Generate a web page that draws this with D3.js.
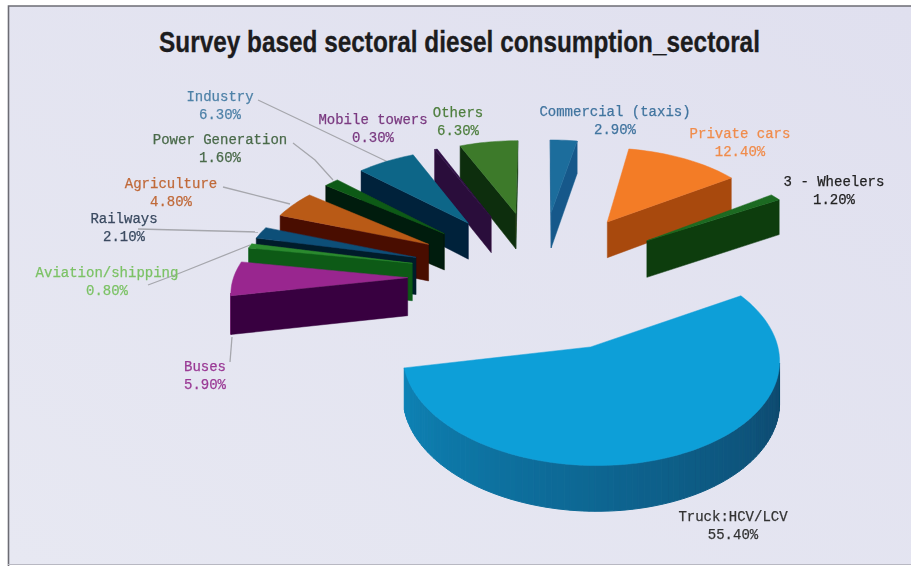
<!DOCTYPE html>
<html><head><meta charset="utf-8">
<style>html,body{margin:0;padding:0;background:#fff}svg{display:block}</style>
<script src="https://cdn.jsdelivr.net/npm/d3@7/dist/d3.min.js"></script></head>
<body><svg id="c" width="911" height="566"></svg>
<script>
const categories=["Commercial (taxis)","Private cars","3 - Wheelers","Truck:HCV/LCV","Buses","Aviation/shipping","Railways","Agriculture","Power Generation","Industry","Mobile towers","Others"];
const values=[2.9,12.4,1.2,55.4,5.9,0.8,2.1,4.8,1.6,6.3,0.3,6.3];
const topColors=["#1f6d9c","#f37b27","#1b6a20","#109fd8","#99268f","#2c8a2e","#0e4f78","#b95a18","#0f5a16","#0e6688","#2e0f44","#3c7a2c"];
const sideColors=["#14598a","#a84a10","#0c3c0e","#0a4468","#37053f","#0a5a16","#041c2c","#4a0d06","#021a08","#04203a","#2a0a3a","#0c2f0a"];
const labelColors=["#41749f","#f08c4c","#222222","#333333","#9a3a95","#7cc266","#3a4a60","#c06a3a","#4a6a4a","#4f82a8","#7a3a80","#4f7f3f"];
const labelCenters=[[615,112],[740,134],[834,182],[733,517],[205,367],[107,273],[124,219],[171,184],[220,140],[220,97],[373,120],[458,113]];
const leaders=[null,null,null,null,[[230,362],[232,337]],[[148,285],[180,273],[250,245]],[[138,229],[258,232]],[[223,187],[290,204]],[[293,143],[315,160],[333,180]],[[258,100],[317,128],[388,162]],null,null];
const title="Survey based sectoral diesel consumption_sectoral";

const vx=540,S=174,H=925,hz=-648,D=10.1,explode=0.76,depth=38;
const TAU=Math.PI*2;
const svg=d3.select("#c");
const defs=svg.append("defs");
const bg=defs.append("linearGradient").attr("id","bg").attr("x1",0).attr("y1",1).attr("x2",1).attr("y2",0);
bg.append("stop").attr("offset",0).attr("stop-color","#e7e8f2");
bg.append("stop").attr("offset",1).attr("stop-color","#e0e0ef");
const soft=(id,d)=>defs.append("filter").attr("id",id).attr("x","-5%").attr("y","-5%").attr("width","110%").attr("height","110%").append("feGaussianBlur").attr("stdDeviation",d);
soft("softPie",0.6);
soft("softText",0.35);
const line=d3.line();
svg.append("rect").attr("x",8).attr("y",6).attr("width",903).attr("height",558).attr("fill","url(#bg)");
svg.append("path").attr("d",line([[8.5,566],[8.5,6],[911,6]])).attr("fill","none").attr("stroke","#6c6c74").attr("stroke-width",1.6);
svg.append("path").attr("d",line([[8,564.5],[911,564.5]])).attr("fill","none").attr("stroke","#b8b8c2").attr("stroke-width",1);
svg.append("text").attr("transform","translate(459.5,52) scale(0.812,1)").attr("text-anchor","middle").attr("font-family","'Liberation Sans',sans-serif").attr("font-weight",700).attr("font-size",30).attr("fill","#1c1c1e").attr("stroke","#1c1c1e").attr("stroke-width",0.3).text(title);

const project=(X,Y,z)=>{const s=1/(1-Y/D);return [vx+S*X*s,hz+H*s+z*s];};
const pie=d3.pie().sort(null).startAngle(0).endAngle(TAU);
const arcs=pie(values);
const slices=arcs.map((a,i)=>{
  const mid=(a.startAngle+a.endAngle)/2;
  const ox=explode*Math.sin(mid),oy=-explode*Math.cos(mid);
  const n=Math.max(2,Math.ceil((a.endAngle-a.startAngle)/0.03));
  const rim=d3.range(n+1).map(k=>{const t=a.startAngle+(a.endAngle-a.startAngle)*k/n;return {t,X:ox+Math.sin(t),Y:oy-Math.cos(t)};});
  return {i,ox,oy,rim,mid};
});
const order=slices.slice().sort((a,b)=>a.oy-b.oy);
const leaderLayer=svg.append("g").attr("filter","url(#softText)");
const g=svg.append("g").attr("filter","url(#softPie)");
const signed=q=>{let A=0;q.forEach((p,k)=>{const r=q[(k+1)%q.length];A+=p[0]*r[1]-r[0]*p[1];});return A;};
order.forEach(sl=>{
  const i=sl.i,el=g.append("g");
  const A={X:sl.ox,Y:sl.oy},first=sl.rim[0],last=sl.rim[sl.rim.length-1];
  const wall=(p,q)=>[project(p.X,p.Y,0),project(q.X,q.Y,0),project(q.X,q.Y,depth),project(p.X,p.Y,depth)];
  d3.pairs(sl.rim).forEach(([p,q])=>{
    const w=wall(p,q);
    if(signed(w)<0){
      const tm=(p.t+q.t)/2;
      const k=Math.max(0,Math.min(1,(tm-Math.PI/2)/Math.PI))*0.75;
      const c=d3.interpolateRgb(sideColors[i],topColors[i])(k);
      el.append("path").attr("d",line(w)+"Z").attr("fill",c).attr("stroke",c).attr("stroke-width",1);
    }
  });
  [[A,first],[last,A]].forEach(([p,q])=>{
    const w=wall(p,q);
    if(signed(w)<0) el.append("path").attr("d",line(w)+"Z").attr("fill",sideColors[i]).attr("stroke",sideColors[i]).attr("stroke-width",0.5);
  });
  const top=[project(A.X,A.Y,0)].concat(sl.rim.map(p=>project(p.X,p.Y,0)));
  el.append("path").attr("d",line(top)+"Z").attr("fill",topColors[i]).attr("stroke",topColors[i]).attr("stroke-width",0.5);
});
leaders.forEach(l=>{ if(l) leaderLayer.append("path").attr("d",line(l)).attr("fill","none").attr("stroke","#a6a7ad").attr("stroke-width",1.3); });
const labelLayer=svg.append("g").attr("filter","url(#softText)");
categories.forEach((c,i)=>{
  const [x,y]=labelCenters[i];
  const t=labelLayer.append("text").attr("text-anchor","middle").attr("font-family","'Liberation Mono','DejaVu Sans Mono',monospace").attr("font-size",14).attr("fill",labelColors[i]).attr("stroke",labelColors[i]).attr("stroke-width",0.25);
  t.append("tspan").attr("x",x).attr("y",y+4).text(c);
  t.append("tspan").attr("x",x).attr("y",y+22).text(values[i].toFixed(2)+"%");
});
</script></body></html>
